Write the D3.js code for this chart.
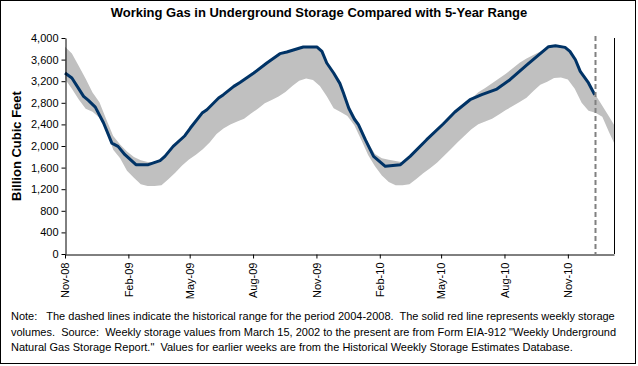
<!DOCTYPE html>
<html>
<head>
<meta charset="utf-8">
<script src="https://cdn.jsdelivr.net/npm/d3@7"></script>
<style>
  html, body { margin: 0; padding: 0; background: #fff; }
  svg text { font-family: "Liberation Sans", Arial, sans-serif; }
</style>
</head>
<body>
<svg id="chart" width="638" height="366"></svg>
<script>
// ---------------- data ----------------
const lineDates = ["2008-11-01","2008-11-11","2008-11-28","2008-12-05","2008-12-15","2008-12-27","2009-01-08","2009-01-17","2009-01-27","2009-02-12","2009-03-02","2009-03-19","2009-03-26","2009-04-07","2009-04-24","2009-05-02","2009-05-19","2009-05-26","2009-06-12","2009-06-19","2009-07-04","2009-07-13","2009-08-02","2009-08-21","2009-09-09","2009-09-19","2009-10-08","2009-10-13","2009-11-02","2009-11-09","2009-11-16","2009-11-26","2009-12-05","2009-12-10","2009-12-18","2009-12-26","2010-01-01","2010-01-11","2010-01-23","2010-02-09","2010-03-03","2010-03-17","2010-04-10","2010-05-04","2010-05-21","2010-06-12","2010-06-29","2010-07-21","2010-08-09","2010-09-03","2010-10-04","2010-10-14","2010-10-28","2010-11-04","2010-11-12","2010-11-19","2010-12-01","2010-12-10"];
const lineValues = [3352,3259,2919,2844,2721,2425,2054,1993,1839,1654,1654,1728,1808,1993,2190,2333,2610,2672,2888,2950,3104,3178,3352,3537,3710,3740,3815,3833,3833,3753,3537,3352,3160,2990,2700,2500,2395,2117,1808,1623,1654,1808,2117,2407,2629,2857,2950,3055,3228,3506,3840,3857,3826,3752,3598,3381,3167,2950];

// 5-year range band, one reading every 10 days from bandStart
const bandStart = "2008-11-01";
const bandStepDays = 10;
const bandHigh = [3840,3715,3480,3245,2990,2810,2490,2185,2030,1900,
  1795,1735,1705,1700,1750,1885,2025,2140,2300,2460,
  2620,2720,2850,2950,3055,3145,3230,3320,3415,3510,
  3600,3690,3735,3780,3810,3830,3835,3790,3540,3340,
  3130,2800,2560,2330,2060,1850,1775,1745,1720,1700,
  1800,1920,2050,2175,2300,2420,2545,2670,2775,2880,
  2995,3075,3160,3250,3340,3440,3540,3620,3685,3750,
  3830,3855,3845,3790,3610,3345,3170,2950,2745,2540,2330];
const bandLow = [3240,3060,2860,2690,2635,2525,2310,1930,1775,1540,
  1410,1290,1259,1259,1275,1385,1505,1640,1750,1840,
  1940,2065,2220,2325,2400,2455,2505,2600,2690,2790,
  2850,2915,3000,3110,3210,3250,3220,3110,2920,2700,
  2630,2555,2385,2115,1835,1625,1455,1335,1275,1275,
  1290,1390,1495,1590,1690,1815,1940,2070,2190,2310,
  2405,2455,2505,2585,2665,2740,2815,2895,3020,3135,
  3190,3260,3270,3230,3060,2800,2655,2615,2540,2250,1980];

const currentDate = "2010-12-10";
const xDomain = ["2008-11-01", "2011-01-07"];
const xTickDates = ["2008-11-01","2009-02-01","2009-05-01","2009-08-01","2009-11-01","2010-02-01","2010-05-01","2010-08-01","2010-11-01"];
const yTicks = [0,400,800,1200,1600,2000,2400,2800,3200,3600,4000];

const titleText = "Working Gas in Underground Storage Compared with 5-Year Range";
const yLabel = "Billion Cubic Feet";
const noteLines = [
  "Note:   The dashed lines indicate the historical range for the period 2004-2008.  The solid red line represents weekly storage",
  "volumes.  Source:  Weekly storage values from March 15, 2002 to the present are from Form EIA-912 \"Weekly Underground",
  "Natural Gas Storage Report.\"  Values for earlier weeks are from the Historical Weekly Storage Estimates Database."
];

// ---------------- drawing ----------------
const parse = d3.utcParse("%Y-%m-%d");
const svg = d3.select("#chart");
const W = 638, H = 366;
const plot = {left: 65, right: 614, top: 38, bottom: 254};

const x = d3.scaleUtc().domain(xDomain.map(parse)).range([plot.left, plot.right]);
const y = d3.scaleLinear().domain([0, 4000]).range([plot.bottom, plot.top]);

// outer border
svg.append("rect").attr("x", 0.5).attr("y", 0.5).attr("width", W - 3).attr("height", H - 3)
  .attr("fill", "#fff").attr("stroke", "#000").attr("stroke-width", 1);

// title
svg.append("text").attr("x", 319).attr("y", 17).attr("text-anchor", "middle")
  .attr("font-size", "13px").attr("font-weight", "bold").text(titleText);

// clip
svg.append("clipPath").attr("id", "clip").append("rect")
  .attr("x", plot.left).attr("y", plot.top - 2).attr("width", plot.right - plot.left).attr("height", plot.bottom - plot.top + 2);

const start = parse(bandStart);
const band = bandHigh.map((h, i) => ({d: d3.utcDay.offset(start, i * bandStepDays), hi: h, lo: bandLow[i]}));
const area = d3.area().x(d => x(d.d)).y0(d => y(d.lo)).y1(d => y(d.hi));
svg.append("path").datum(band).attr("clip-path", "url(#clip)")
  .attr("d", area).attr("fill", "#c0c0c0").attr("stroke", "none");

// storage line
const series = lineDates.map((d, i) => ({d: parse(d), v: lineValues[i]}));
const line = d3.line().x(d => x(d.d)).y(d => y(d.v));
svg.append("path").datum(series).attr("d", line)
  .attr("fill", "none").attr("stroke", "#003366").attr("stroke-width", 3)
  .attr("stroke-linejoin", "round");

// current week dashed line
const cx = Math.round(x(parse(currentDate))) + 0.5;
svg.append("line").attr("x1", cx).attr("x2", cx).attr("y1", plot.top - 2).attr("y2", plot.bottom)
  .attr("stroke", "#808080").attr("stroke-width", 2).attr("stroke-dasharray", "5,3");

// right border of plot
svg.append("line").attr("x1", plot.right + 0.5).attr("x2", plot.right + 0.5)
  .attr("y1", plot.top).attr("y2", plot.bottom).attr("stroke", "#000");

// y axis
const yAxis = d3.axisLeft(y).tickValues(yTicks).tickFormat(d3.format(",")).tickSize(4).tickSizeOuter(0);
const gy = svg.append("g").attr("transform", `translate(${plot.left + 0.5},0)`).call(yAxis);
gy.selectAll("text").attr("font-size", "11px").attr("fill", "#000").attr("x", -7);
gy.selectAll("line, path").attr("stroke", "#000");

// x axis
const xAxis = d3.axisBottom(x).tickValues(xTickDates.map(parse)).tickFormat(d3.utcFormat("%b-%y")).tickSize(4).tickSizeOuter(0);
const gx = svg.append("g").attr("transform", `translate(0,${plot.bottom + 0.5})`).call(xAxis);
gx.selectAll("line, path").attr("stroke", "#000");
gx.selectAll("text").attr("font-size", "11px").attr("fill", "#000")
  .attr("transform", "rotate(-90)").attr("text-anchor", "end")
  .attr("x", -8).attr("y", 0).attr("dy", "0.35em");

// y label
svg.append("text").attr("transform", `translate(21,${(plot.top + plot.bottom) / 2}) rotate(-90)`)
  .attr("text-anchor", "middle").attr("font-size", "13px").attr("font-weight", "bold").text(yLabel);

// note
const note = svg.append("text").attr("font-size", "11px").attr("xml:space", "preserve").style("white-space", "pre");
noteLines.forEach((t, i) => {
  note.append("tspan").attr("x", 11).attr("y", 320 + i * 15.5).text(t);
});
</script>
</body>
</html>
